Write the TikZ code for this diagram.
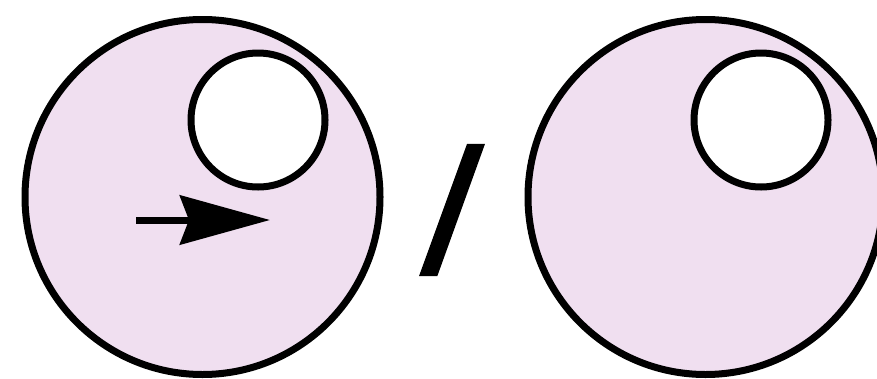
\documentclass[tikz,border=0pt]{standalone}
\usepackage{fontspec}
\setmainfont{Liberation Sans}
\newfontfamily\slashfont[FakeBold=2.5]{Liberation Sans}
\usetikzlibrary{arrows.meta}
\definecolor{cellfill}{RGB}{240,223,240}
\tikzset{
  cell/.style={circle, draw=black, line width=7pt, fill=cellfill, minimum size=355pt, inner sep=0pt},
  hole/.style={circle, draw=black, line width=7pt, fill=white, minimum size=134pt, inner sep=0pt},
  slashtext/.style={inner sep=0pt, xslant=0.09, font=\slashfont\fontsize{174pt}{174pt}\selectfont},
  motion/.style={line width=7pt, -{Stealth[length=90pt, width=49pt, inset=9pt]}}
}
\begin{document}
\begin{tikzpicture}[x=1pt, y=-1pt]
\useasboundingbox (0,0) rectangle (877,378);
\node[cell] (cellA) at (202.5,197) {};
\node[hole] (holeA) at (258,120) {};
\coordinate (arrS) at (136,220);
\coordinate (arrE) at (270,220);
\draw[motion] (arrS) -- (arrE);
\node[slashtext] (slash) at (452,210) {/};
\node[cell] (cellB) at (705.5,197) {};
\node[hole] (holeB) at (761,120) {};
\end{tikzpicture}
\end{document}
